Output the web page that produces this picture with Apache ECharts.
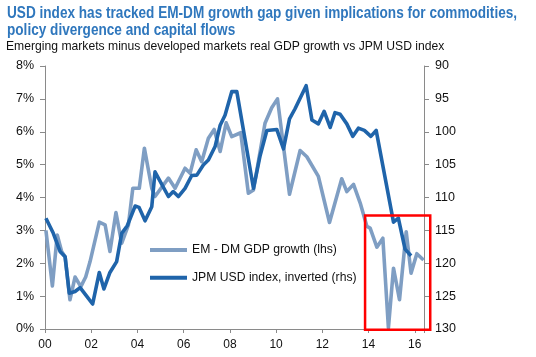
<!DOCTYPE html>
<html>
<head>
<meta charset="utf-8">
<script src="https://cdn.jsdelivr.net/npm/echarts@6/dist/echarts.min.js"></script>
<style>
html,body{margin:0;padding:0;background:#fff;}
#chart{width:536px;height:357px;}
</style>
</head>
<body>
<div id="chart"></div>
<script>
// ---- Data ----
const titleLines = ["USD index has tracked EM-DM growth gap given implications for commodities,",
                    "policy divergence and capital flows"];
const subtitleText = "Emerging markets minus developed markets real GDP growth vs JPM USD index";
const seriesNames = ["EM - DM GDP growth (lhs)", "JPM USD index, inverted (rhs)"];
const xTickLabels = ["00","02","04","06","08","10","12","14","16"];

// EM - DM real GDP growth gap (%), dates as decimal years
const gapDates = [2000.04,2000.32,2000.53,2000.72,2000.87,2001.08,2001.30,2001.55,2001.76,2001.95,
  2002.35,2002.60,2002.81,2003.07,2003.32,2003.61,2003.80,2004.08,2004.30,2004.62,2004.76,
  2005.34,2005.63,2006.06,2006.28,2006.54,2006.78,2007.07,2007.32,2007.58,2007.84,
  2008.08,2008.47,2008.80,2009.02,2009.52,2009.81,2010.06,2010.58,2011.04,2011.33,2011.83,
  2012.31,2012.84,2013.06,2013.35,2013.64,2013.93,2014.07,2014.36,2014.62,2014.86,
  2015.08,2015.34,2015.63,2015.84,2016.09,2016.38];
const gapValues = [3.0,1.31,2.86,2.36,2.2,0.89,1.58,1.29,1.58,2.05,
  3.25,3.17,2.36,3.54,2.61,3.17,4.28,4.28,5.5,4.28,4.03,
  4.59,4.28,4.89,4.74,5.45,5.09,5.8,6.07,5.4,6.27,
  5.85,5.97,4.13,4.23,6.26,6.73,7.0,4.1,5.43,5.24,4.64,
  3.24,4.57,4.18,4.4,3.83,3.12,3.07,2.49,2.76,0.03,
  1.85,0.89,2.96,1.7,2.29,2.1];

// JPM USD index (plotted on an inverted right axis)
const usdDates = [2000.04,2000.36,2000.65,2000.87,2001.05,2001.30,2001.52,2001.81,2002.06,2002.35,
  2002.55,2002.81,2003.10,2003.32,2003.56,2003.90,2004.07,2004.33,2004.62,2004.76,
  2005.34,2005.55,2005.77,2006.06,2006.35,2006.57,2006.85,2007.07,2007.36,2007.58,2007.79,
  2008.08,2008.30,2009.02,2009.31,2009.60,2010.03,2010.32,2010.58,2010.82,
  2011.30,2011.55,2011.83,2012.08,2012.34,2012.55,2012.77,2013.06,2013.32,2013.56,2013.82,
  2014.10,2014.33,2015.08,2015.29,2015.58,2015.84];
const usdValues = [113.15,115.45,118.2,119.0,124.55,124.3,123.7,125.05,126.2,121.4,
  123.9,121.4,119.75,115.45,114.3,111.3,111.5,113.55,111.4,106.1,
  109.85,109.1,109.85,108.6,106.65,106.6,105.05,104.3,102.25,99.0,97.5,
  93.9,93.9,108.6,103.6,99.8,99.65,102.6,98.05,96.5,
  93.0,98.2,98.8,96.9,99.35,97.1,97.35,98.8,100.7,99.45,99.8,
  100.7,99.8,113.75,113.15,117.85,118.85];

// Highlight box annotation: [xStart, xEnd] in years, [top, bottom] on the lhs (%) scale
const highlightX = [2013.85, 2016.67];
const highlightY = [3.45, -0.02];

const gapData = gapDates.map((d, i) => [d, gapValues[i]]);
const usdData = usdDates.map((d, i) => [d, usdValues[i]]);

const FONT = "'Liberation Sans', Arial, sans-serif";
const GREY = "#7f9ec3";
const BLUE = "#1f64aa";
const AXIS = "#8a8a8a";

const chart = echarts.init(document.getElementById('chart'), null, {renderer: 'canvas'});
const option = {
  animation: false,
  backgroundColor: '#ffffff',
  legend: {
    orient: 'vertical', left: 150, top: 243, padding: 0, itemGap: 13.7,
    itemWidth: 37, itemHeight: 4,
    data: [{name: seriesNames[0], icon: 'rect'}, {name: seriesNames[1], icon: 'rect'}],
    textStyle: {fontFamily: FONT, fontSize: 12.2, color: '#111', lineHeight: 14}
  },
  grid: {left: 45, right: 112, top: 66, bottom: 28, containLabel: false},
  xAxis: {
    type: 'value', min: 2000, max: 2016.4, interval: 2,
    axisLine: {show: true, lineStyle: {color: AXIS, width: 1}},
    axisTick: {show: true, length: 4, lineStyle: {color: AXIS}},
    splitLine: {show: false},
    axisLabel: {
      margin: 10, fontFamily: FONT, fontSize: 12, color: '#111',
      formatter: v => {
        const r = Math.round(v);
        if (Math.abs(v - r) > 1e-6) return '';
        const idx = (r - 2000) / 2;
        return xTickLabels[idx] !== undefined ? xTickLabels[idx] : '';
      }
    }
  },
  yAxis: [
    {type: 'value', min: 0, max: 8, interval: 1, position: 'left',
     axisLine: {show: true, lineStyle: {color: AXIS, width: 1}},
     axisTick: {show: true, length: 5, lineStyle: {color: AXIS}},
     splitLine: {show: false},
     axisLabel: {margin: 11, fontFamily: FONT, fontSize: 12.5, color: '#111', formatter: '{value}%'}},
    {type: 'value', min: 90, max: 130, interval: 5, inverse: true, position: 'right',
     axisLine: {show: true, lineStyle: {color: AXIS, width: 1}},
     axisTick: {show: true, length: 5, lineStyle: {color: AXIS}},
     splitLine: {show: false},
     axisLabel: {margin: 11, fontFamily: FONT, fontSize: 12.5, color: '#111'}}
  ],
  series: [
    {name: seriesNames[0], type: 'line', yAxisIndex: 0, data: gapData, showSymbol: false,
     color: GREY, lineStyle: {color: GREY, width: 3.6, join: 'round'}, z: 2, clip: false},
    {name: seriesNames[1], type: 'line', yAxisIndex: 1, data: usdData, showSymbol: false,
     color: BLUE, lineStyle: {color: BLUE, width: 3.6, join: 'round'}, z: 3, clip: false}
  ]
};
chart.setOption(option);

// Highlight box positioned through the chart's own scales
const p1 = chart.convertToPixel({gridIndex: 0}, [highlightX[0], highlightY[0]]);
const p2 = chart.convertToPixel({gridIndex: 0}, [highlightX[1], highlightY[1]]);
chart.setOption({
  graphic: [
    {type: 'text', x: 7, y: 13.5, scaleX: 0.85, scaleY: 1,
     style: {text: titleLines[0], fontFamily: FONT, fontSize: 16, fontWeight: 'bold',
             fill: '#2f77bd', verticalAlign: 'middle', align: 'left'}},
    {type: 'text', x: 7, y: 30.5, scaleX: 0.85, scaleY: 1,
     style: {text: titleLines[1], fontFamily: FONT, fontSize: 16, fontWeight: 'bold',
             fill: '#2f77bd', verticalAlign: 'middle', align: 'left'}},
    {type: 'text', x: 6, y: 46, scaleX: 0.935, scaleY: 1,
     style: {text: subtitleText, fontFamily: FONT, fontSize: 13, fontWeight: 'normal',
             fill: '#111', verticalAlign: 'middle', align: 'left'}},
    {type: 'rect', z: 100,
     shape: {x: p1[0], y: p1[1], width: p2[0] - p1[0], height: p2[1] - p1[1]},
     style: {fill: 'none', stroke: '#ff0000', lineWidth: 2.5}}
  ]
});
</script>
</body>
</html>
